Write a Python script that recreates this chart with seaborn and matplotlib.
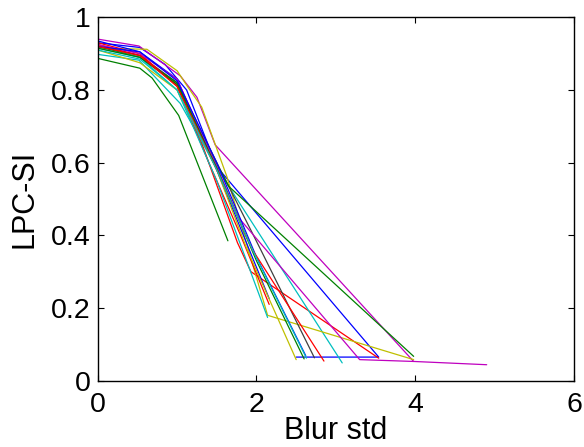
import numpy as np
import pandas as pd
import matplotlib
matplotlib.use("Agg")
import matplotlib.pyplot as plt
import seaborn as sns

# ---- data (blur std vs LPC-SI, one curve per image) ----
line_names = ["blue_a", "green_a", "red_a", "cyan_a", "magenta_a", "yellow_a",
              "gray_a", "blue_b", "green_b", "red_b", "cyan_b", "magenta_b",
              "yellow_b", "blue_c", "green_c", "red_c", "cyan_c"]

blue_a_x = [0, 0.53, 0.85, 1.12, 1.50, 3.54, 2.50]
blue_a_y = [0.930, 0.917, 0.870, 0.800, 0.589, 0.065, 0.065]
green_a_x = [0, 0.53, 0.685, 1.02, 1.64]
green_a_y = [0.887, 0.860, 0.833, 0.730, 0.385]
red_a_x = [0, 0.53, 1.0, 1.30, 1.76, 1.93, 3.54]
red_a_y = [0.925, 0.895, 0.815, 0.660, 0.380, 0.300, 0.062]
cyan_a_x = [0, 0.52, 1.04, 1.46, 3.08]
cyan_a_y = [0.898, 0.882, 0.763, 0.600, 0.049]
magenta_a_x = [0, 0.52, 1.04, 1.25, 1.48, 3.98, 4.90]
magenta_a_y = [0.940, 0.921, 0.839, 0.780, 0.649, 0.053, 0.044]
yellow_a_x = [0, 0.62, 1.0, 1.13, 1.31, 1.63, 2.14, 3.98]
yellow_a_y = [0.915, 0.912, 0.853, 0.810, 0.753, 0.560, 0.180, 0.058]
gray_a_x = [0, 0.53, 1.0, 1.50, 2.05, 2.73]
gray_a_y = [0.920, 0.895, 0.820, 0.600, 0.362, 0.063]
blue_b_x = [0, 0.53, 1.0, 1.50, 2.16]
blue_b_y = [0.935, 0.905, 0.830, 0.580, 0.226]
green_b_x = [0, 0.53, 1.0, 1.30, 1.65, 3.98]
green_b_y = [0.920, 0.890, 0.820, 0.680, 0.535, 0.067]
red_b_x = [0, 0.53, 1.0, 1.40, 1.80, 2.16]
red_b_y = [0.930, 0.900, 0.810, 0.600, 0.400, 0.210]
cyan_b_x = [0, 0.53, 1.0, 1.50, 2.14]
cyan_b_y = [0.915, 0.890, 0.800, 0.550, 0.174]
magenta_b_x = [0, 0.53, 1.0, 1.50, 1.77, 3.30, 3.98]
magenta_b_y = [0.925, 0.900, 0.830, 0.590, 0.450, 0.058, 0.053]
yellow_b_x = [0, 0.53, 1.0, 1.50, 1.88, 2.50]
yellow_b_y = [0.910, 0.875, 0.800, 0.580, 0.362, 0.058]
blue_c_x = [0, 0.53, 1.0, 1.50, 2.0, 2.62]
blue_c_y = [0.920, 0.905, 0.825, 0.600, 0.340, 0.069]
green_c_x = [0, 0.53, 1.0, 1.50, 2.0, 2.60]
green_c_y = [0.915, 0.890, 0.815, 0.585, 0.330, 0.060]
red_c_x = [0, 0.53, 1.0, 1.50, 1.95, 2.85]
red_c_y = [0.920, 0.895, 0.810, 0.580, 0.360, 0.054]
cyan_c_x = [0, 0.53, 1.0, 1.50, 1.95, 2.63]
cyan_c_y = [0.910, 0.885, 0.800, 0.580, 0.360, 0.062]

x_ticks = [0, 2, 4, 6]
x_tick_labels = ["0", "2", "4", "6"]
y_ticks = [0, 0.2, 0.4, 0.6, 0.8, 1.0]
y_tick_labels = ["0", "0.2", "0.4", "0.6", "0.8", "1"]

# ---- styles ----
C_B = (0, 0, 1)
C_G = (0, 0.5, 0)
C_R = (1, 0, 0)
C_C = (0, 0.75, 0.75)
C_M = (0.75, 0, 0.75)
C_Y = (0.75, 0.75, 0)
C_K = (0.25, 0.25, 0.25)
palette = {"blue_a": C_B, "green_a": C_G, "red_a": C_R, "cyan_a": C_C,
           "magenta_a": C_M, "yellow_a": C_Y, "gray_a": C_K, "blue_b": C_B,
           "green_b": C_G, "red_b": C_R, "cyan_b": C_C, "magenta_b": C_M,
           "yellow_b": C_Y, "blue_c": C_B, "green_c": C_G, "red_c": C_R,
           "cyan_c": C_C}

series = {
    "blue_a": (blue_a_x, blue_a_y), "green_a": (green_a_x, green_a_y),
    "red_a": (red_a_x, red_a_y), "cyan_a": (cyan_a_x, cyan_a_y),
    "magenta_a": (magenta_a_x, magenta_a_y), "yellow_a": (yellow_a_x, yellow_a_y),
    "gray_a": (gray_a_x, gray_a_y), "blue_b": (blue_b_x, blue_b_y),
    "green_b": (green_b_x, green_b_y), "red_b": (red_b_x, red_b_y),
    "cyan_b": (cyan_b_x, cyan_b_y), "magenta_b": (magenta_b_x, magenta_b_y),
    "yellow_b": (yellow_b_x, yellow_b_y), "blue_c": (blue_c_x, blue_c_y),
    "green_c": (green_c_x, green_c_y), "red_c": (red_c_x, red_c_y),
    "cyan_c": (cyan_c_x, cyan_c_y),
}

rows = []
for name in line_names:
    xs, ys = series[name]
    for i, (xv, yv) in enumerate(zip(xs, ys)):
        rows.append({"line": name, "order": i, "Blur std": xv, "LPC-SI": yv})
df = pd.DataFrame(rows)

sns.set_style("white")
plt.rcParams["font.family"] = ["Liberation Sans", "DejaVu Sans"]
plt.rcParams["text.color"] = "black"
plt.rcParams["axes.labelcolor"] = "black"
plt.rcParams["xtick.color"] = "black"
plt.rcParams["ytick.color"] = "black"

fig = plt.figure(figsize=(5.84, 4.47), dpi=100)
ax = fig.add_axes([0.1673, 0.1483, 0.8156, 0.813])

sns.lineplot(data=df, x="Blur std", y="LPC-SI", hue="line", hue_order=line_names,
             palette=palette, units="line", estimator=None, sort=False,
             legend=False, linewidth=0.9, ax=ax)

ax.set_xlim(0, 6)
ax.set_ylim(0, 1)
ax.set_xticks(x_ticks)
ax.set_xticklabels(x_tick_labels)
ax.set_yticks(y_ticks)
ax.set_yticklabels(y_tick_labels)
ax.tick_params(direction="in", length=4, width=0.8, colors="black",
               labelsize=20.5, top=True, right=True, bottom=True, left=True,
               labelcolor="black")
ax.tick_params(axis="x", pad=8)
ax.tick_params(axis="y", pad=5)
for s in ax.spines.values():
    s.set_visible(True)
    s.set_color("black")
    s.set_linewidth(1.0)
ax.set_xlabel("Blur std", fontsize=22, labelpad=-1, color="black")
ax.set_ylabel("LPC-SI", fontsize=22, labelpad=8, color="black")
ax.grid(False)

fig.savefig("out.png", dpi=100, facecolor="white")
